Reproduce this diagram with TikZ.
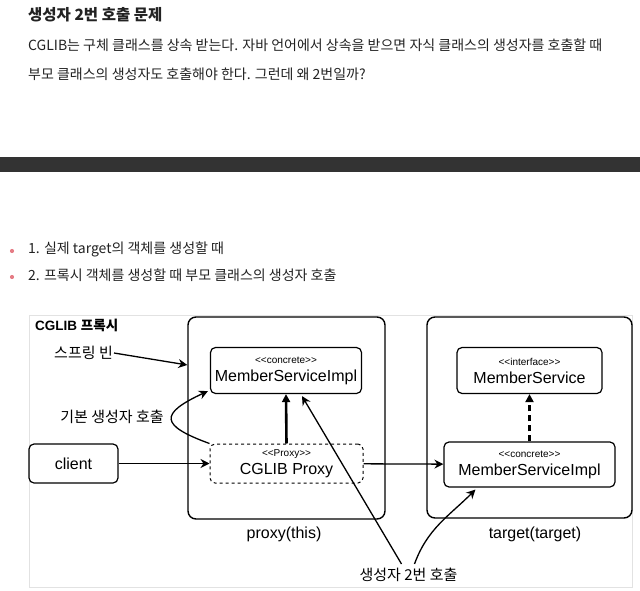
\documentclass[tikz,border=0pt]{standalone}
\usepackage{fontspec}
\setmainfont{Liberation Sans}
\newfontfamily\kr{Noto Sans CJK KR}
\usetikzlibrary{arrows.meta}
\definecolor{barcol}{HTML}{333333}
\definecolor{dotcol}{HTML}{E57C85}
\definecolor{framecol}{HTML}{E2E2E2}
\definecolor{ink}{HTML}{222222}
\newcommand\stereo[1]{{\fontsize{10}{11}\selectfont <\kern0pt<#1>\kern0pt>}}
\begin{document}
\begin{tikzpicture}[x=1pt, y=-1pt,
    every node/.style={font=\fontsize{16}{18}\selectfont, inner sep=0pt},
    blog/.style={anchor=west, text=ink, font=\kr\fontsize{14}{16}\selectfont},
    cls/.style={draw, rounded corners=5pt, line width=1.2pt, align=center},
    grp/.style={draw, rounded corners=8pt, line width=1.4pt},
    arr/.style={-{Stealth[length=9pt,width=9pt,inset=3pt]}, line width=1.3pt},
    lbl/.style={font=\kr\fontsize{15}{17}\selectfont}
]
\useasboundingbox (0,0) rectangle (640,591);

% text of the post
\node[blog, font=\kr\bfseries\fontsize{15.5}{17}\selectfont] (title) at (28,15) {생성자 2번 호출 문제};
\node[blog] (para1) at (28,45) {CGLIB는 구체 클래스를 상속 받는다. 자바 언어에서 상속을 받으면 자식 클래스의 생성자를 호출할 때};
\node[blog] (para2) at (28,74) {부모 클래스의 생성자도 호출해야 한다. 그런데 왜 2번일까?};
\fill[barcol] (0,157) rectangle (640,172);
\fill[dotcol] (12,251) circle (2.1pt);
\fill[dotcol] (12,277) circle (2.1pt);
\node[blog] (item1) at (28,249) {1. 실제 target의 객체를 생성할 때};
\node[blog] (item2) at (28,275) {2. 프록시 객체를 생성할 때 부모 클래스의 생성자 호출};

% figure
\draw[framecol, line width=1pt] (29,315) rectangle (632,587);
\node[anchor=west, font=\bfseries\fontsize{13.5}{15}\selectfont] (cglibLbl) at (35,325) {CGLIB {\kr 프록시}};

\node[grp, minimum width=197pt, minimum height=202pt] (proxyBox) at (286.5,418) {};
\node[grp, minimum width=205pt, minimum height=201pt] (targetBox) at (529.5,417.5) {};

\node[cls, minimum width=151pt, minimum height=46pt] (implTop) at (286,370.5) {\stereo{concrete}\\MemberServiceImpl};
\node[cls, minimum width=145pt, minimum height=46pt] (iface) at (529.5,370.5) {\stereo{interface}\\MemberService};
\node[cls, minimum width=89pt, minimum height=39pt] (client) at (73.5,463.5) {client};
\node[cls, dashed, line width=1pt, minimum width=153pt, minimum height=39pt] (cglibProxy) at (286.5,463.5) {\stereo{Proxy}\\CGLIB Proxy};
\node[cls, minimum width=171pt, minimum height=45pt] (implTarget) at (529.5,464.5) {\stereo{concrete}\\MemberServiceImpl};

\node (proxyLbl) at (284,534) {proxy(this)};
\node (targetLbl) at (535,534) {target(target)};
\node[lbl, anchor=east] (springLbl) at (113,353) {스프링 빈};
\node[lbl] (defaultLbl) at (112,417) {기본 생성자 호출};
\node[lbl] (twiceLbl) at (408.5,575) {생성자 2번 호출};

\draw[arr] ([xshift=1pt]springLbl.east) -- ([yshift=53pt]proxyBox.west);
\draw[arr] (cglibProxy.north west) to[out=160, in=205, looseness=2.6] ([xshift=-2pt, yshift=3pt]implTop.south west);
\draw[-{Triangle[length=8pt,width=8pt]}, line width=2.6pt] (cglibProxy.north) -- (implTop.south);
\draw[arr] ([xshift=-7pt, yshift=4pt]twiceLbl.north) -- ([xshift=16pt, yshift=-2pt]implTop.south);
\draw[arr] ([xshift=6pt, yshift=4pt]twiceLbl.north) to[out=70, in=225] ([xshift=32pt, yshift=-2pt]implTarget.south west);
\draw[-{Triangle[length=8pt,width=8pt]}, line width=2.6pt, dash pattern=on 6pt off 4pt] (implTarget.north) -- (iface.south);
\draw[arr] (client) -- (cglibProxy);
\draw[arr] (cglibProxy) -- (implTarget);
\end{tikzpicture}
\end{document}
